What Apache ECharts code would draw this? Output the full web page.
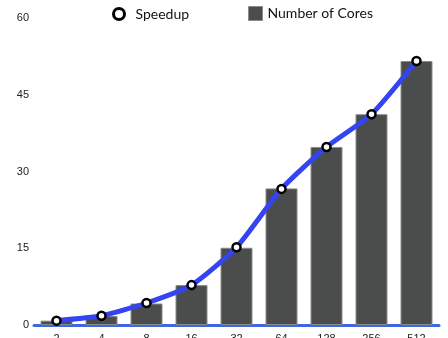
<!DOCTYPE html>
<html>
<head>
<meta charset="utf-8">
<script src="https://cdn.jsdelivr.net/npm/echarts@6/dist/echarts.min.js"></script>
<style>
html, body { margin: 0; padding: 0; background: #fff; }
#main { width: 448px; height: 338px; }
</style>
</head>
<body>
<div id="main"></div>
<script>
var categories = ['2', '4', '8', '16', '32', '64', '128', '256', '512'];
var cores = [0.85, 1.75, 4.2, 7.8, 15.1, 26.7, 34.8, 41.2, 51.6];
var speedup = [0.85, 1.8, 4.3, 7.8, 15.2, 26.6, 34.8, 41.2, 51.6];
var yTicks = [0, 15, 30, 45, 60];

var dom = document.getElementById('main');
var myChart = echarts.init(dom);
var option = {
	animation: false,
	legend: [{
		top: 2,
		left: 107,
		itemWidth: 11,
		itemHeight: 11,
		textStyle: { fontFamily: 'Lato', fontSize: 14, color: '#111', padding: [0, 0, 0, 6] },
		data: [{ name: 'Speedup', icon: 'circle', itemStyle: { color: '#fff', borderColor: '#000', borderWidth: 3 } }]
	}, {
		top: 1,
		left: 243,
		itemWidth: 14,
		itemHeight: 14,
		textStyle: { fontFamily: 'Lato', fontSize: 14, color: '#111' },
		data: [{ name: 'Number of Cores', icon: 'rect', itemStyle: { color: '#4b4d4d', borderColor: '#8a8c8c', borderWidth: 1 } }]
	}],
	grid: { left: 34, right: 9, top: 18, bottom: 13, containLabel: false, outerBoundsMode: 'none' },
	xAxis: {
		type: 'category',
		data: categories,
		axisLine: { lineStyle: { color: '#3f66e6', width: 3 } },
		axisTick: { show: false },
		axisLabel: { color: '#222', fontSize: 11, fontFamily: 'Liberation Sans', margin: 8 }
	},
	yAxis: {
		type: 'value',
		min: yTicks[0],
		max: yTicks[yTicks.length - 1],
		interval: 15,
		splitLine: { show: false },
		axisLine: { show: false },
		axisTick: { show: false },
		axisLabel: { color: '#222', fontSize: 11, fontFamily: 'Liberation Sans', margin: 5 }
	},
	series: [{
		name: 'Number of Cores',
		type: 'bar',
		barWidth: 32,
		z: 1,
		itemStyle: { color: '#4b4d4d', borderColor: '#8a8c8c', borderWidth: 1 },
		data: cores
	}, {
		name: 'Speedup',
		type: 'line',
		smooth: 0.2,
		z: 3,
		symbol: 'circle',
		symbolSize: 8,
		lineStyle: { color: '#3344f0', width: 5 },
		itemStyle: { color: '#fff', borderColor: '#000', borderWidth: 2.5 },
		data: speedup
	}]
};
myChart.setOption(option, true);
</script>
</body>
</html>
